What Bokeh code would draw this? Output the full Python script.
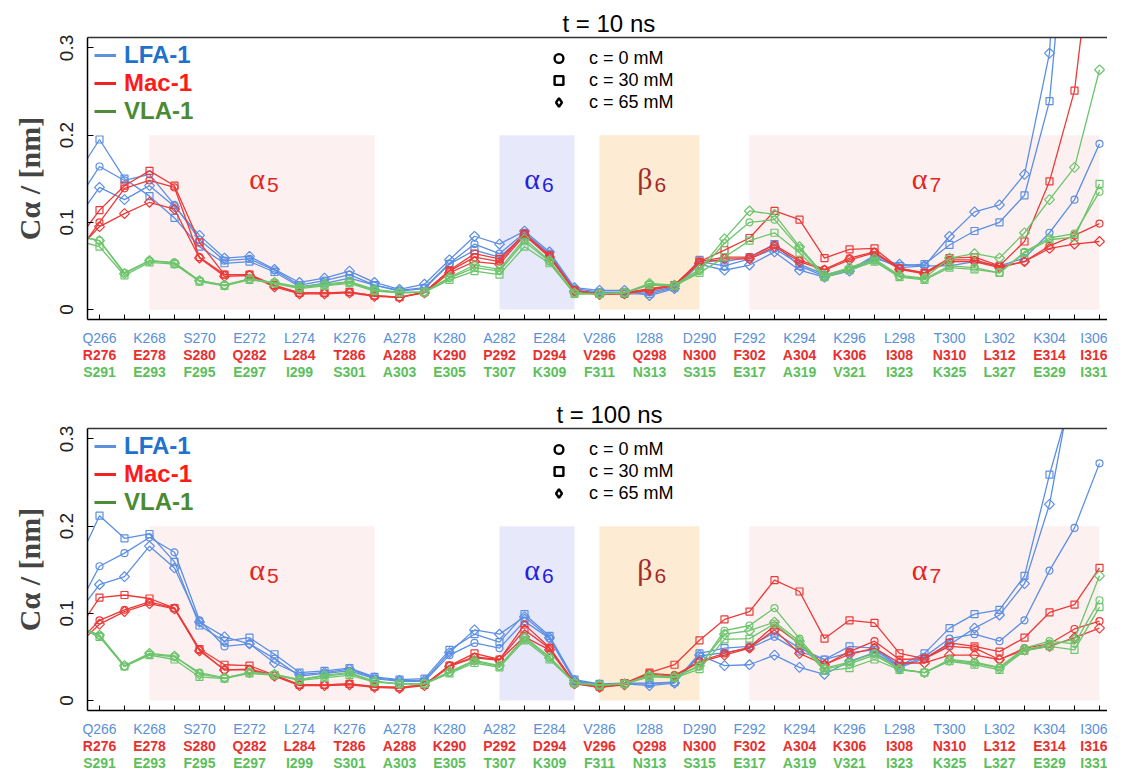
import math
from bokeh.plotting import figure
from bokeh.models import LinearAxis, FixedTicker, Range1d, Legend, LegendItem, Spacer
from bokeh.layouts import column, row
from bokeh.embed import file_html
from bokeh.resources import INLINE
from bokeh.core.properties import value

NAN = float("nan")

# ---------------- data ----------------
residues = [265, 266, 267, 268, 269, 270, 271, 272, 273, 274, 275, 276, 277, 278,
            279, 280, 281, 282, 283, 284, 285, 286, 287, 288, 289, 290, 291, 292,
            293, 294, 295, 296, 297, 298, 299, 300, 301, 302, 303, 304, 305, 306]
all_ticks = [266, 267, 268, 269, 270, 271, 272, 273, 274, 275, 276, 277, 278, 279,
             280, 281, 282, 283, 284, 285, 286, 287, 288, 289, 290, 291, 292, 293,
             294, 295, 296, 297, 298, 299, 300, 301, 302, 303, 304, 305, 306]
label_ticks = [266, 268, 270, 272, 274, 276, 278, 280, 282, 284, 286, 288, 290,
               292, 294, 296, 298, 300, 302, 304, 306]
lfa_labels = ["Q266", "K268", "S270", "E272", "L274", "K276", "A278", "K280", "A282",
              "E284", "V286", "I288", "D290", "F292", "K294", "K296", "L298", "T300",
              "L302", "K304", "I306"]
mac_labels = ["R276", "E278", "S280", "Q282", "L284", "T286", "A288", "K290", "P292",
              "D294", "V296", "Q298", "N300", "F302", "A304", "K306", "I308", "N310",
              "L312", "E314", "I316"]
vla_labels = ["S291", "E293", "F295", "E297", "I299", "S301", "A303", "E305", "T307",
              "K309", "F311", "N313", "S315", "E317", "A319", "V321", "I323", "K325",
              "L327", "E329", "I331"]

region_names = ["α", "α", "β", "α"]
region_subs = ["5", "6", "6", "7"]
region_start = [268, 282, 286, 292]
region_end = [277, 285, 290, 306]
region_bottom = [0, 0, 0, 0]
region_top = [0.2, 0.2, 0.2, 0.2]
region_label_y = [0.15, 0.15, 0.15, 0.15]
region_fill = ["#fdf0f0", "#e8e8fb", "#fdebd4", "#fdf0f0"]
region_text_color = ["#e3261f", "#2323dd", "#a32b2b", "#e3261f"]

conc_labels = ["c = 0 mM", "c = 30 mM", "c = 65 mM"]
conc_markers = ["circle", "square", "square"]
conc_angles = [0.0, 0.0, math.pi / 4]
legend_markers = ["circle", "square", "diamond"]
proteins = ["LFA-1", "Mac-1", "VLA-1"]

# t = 10 ns
lfa_c0_10 = [0.120, 0.164, 0.148, 0.155, 0.120, 0.080, 0.056, 0.058, 0.045, 0.028, 0.033, 0.040, 0.028, 0.022, 0.025, 0.053, 0.075, 0.064, 0.088, 0.064, 0.024, 0.020, 0.020, 0.020, 0.026, 0.055, 0.050, 0.058, 0.070, 0.052, 0.040, 0.046, 0.060, 0.048, 0.050, 0.050, 0.055, 0.050, 0.059, 0.088, 0.126, 0.190]
lfa_c30_10 = [0.150, 0.195, 0.150, 0.130, 0.105, 0.072, 0.053, 0.055, 0.043, 0.026, 0.030, 0.036, 0.028, 0.021, 0.024, 0.052, 0.068, 0.060, 0.085, 0.062, 0.022, 0.019, 0.018, 0.018, 0.025, 0.057, 0.055, 0.060, 0.075, 0.050, 0.038, 0.045, 0.062, 0.050, 0.052, 0.074, 0.090, 0.100, 0.131, 0.239, 0.550, 0.600]
lfa_c65_10 = [0.100, 0.140, 0.126, 0.142, 0.118, 0.085, 0.059, 0.061, 0.046, 0.031, 0.036, 0.044, 0.031, 0.023, 0.029, 0.057, 0.084, 0.075, 0.090, 0.066, 0.025, 0.022, 0.022, 0.016, 0.024, 0.052, 0.045, 0.051, 0.066, 0.045, 0.037, 0.044, 0.058, 0.052, 0.050, 0.084, 0.112, 0.120, 0.155, 0.294, 0.800, 0.700]
mac_c0_10 = [0.060, 0.100, 0.139, 0.148, 0.140, 0.060, 0.040, 0.040, 0.027, 0.019, 0.019, 0.020, 0.016, 0.014, 0.020, 0.044, 0.060, 0.055, 0.087, 0.061, 0.022, 0.018, 0.019, 0.024, 0.028, 0.055, 0.060, 0.060, 0.074, 0.057, 0.046, 0.059, 0.066, 0.047, 0.042, 0.057, 0.057, 0.049, 0.055, 0.073, 0.085, 0.0985]
mac_c30_10 = [0.075, 0.114, 0.142, 0.159, 0.142, 0.077, 0.040, 0.040, 0.028, 0.019, 0.019, 0.020, 0.016, 0.014, 0.020, 0.045, 0.064, 0.058, 0.087, 0.062, 0.022, 0.018, 0.019, 0.023, 0.028, 0.055, 0.068, 0.082, 0.113, 0.103, 0.059, 0.069, 0.070, 0.047, 0.042, 0.059, 0.060, 0.050, 0.078, 0.147, 0.251, 0.490]
mac_c65_10 = [0.065, 0.095, 0.110, 0.123, 0.115, 0.059, 0.038, 0.039, 0.026, 0.018, 0.018, 0.019, 0.015, 0.014, 0.019, 0.042, 0.055, 0.052, 0.085, 0.060, 0.021, 0.017, 0.018, 0.022, 0.027, 0.053, 0.058, 0.058, 0.072, 0.055, 0.045, 0.057, 0.065, 0.046, 0.041, 0.055, 0.055, 0.048, 0.055, 0.070, 0.075, 0.078]
vla_c0_10 = [0.085, 0.079, 0.042, 0.056, 0.054, 0.033, 0.028, 0.035, 0.030, 0.025, 0.028, 0.031, 0.022, 0.019, 0.020, 0.036, 0.048, 0.044, 0.078, 0.055, 0.018, 0.018, 0.019, 0.029, 0.027, 0.044, 0.076, 0.100, 0.103, 0.070, 0.038, 0.046, 0.056, 0.038, 0.035, 0.050, 0.048, 0.042, 0.066, 0.082, 0.087, 0.135]
vla_c30_10 = [0.080, 0.072, 0.039, 0.054, 0.052, 0.032, 0.027, 0.034, 0.030, 0.024, 0.027, 0.030, 0.021, 0.019, 0.020, 0.034, 0.044, 0.040, 0.072, 0.053, 0.018, 0.018, 0.019, 0.028, 0.027, 0.042, 0.060, 0.079, 0.088, 0.065, 0.037, 0.045, 0.055, 0.037, 0.034, 0.048, 0.046, 0.042, 0.065, 0.080, 0.083, 0.144]
vla_c65_10 = [0.085, 0.079, 0.041, 0.056, 0.053, 0.033, 0.028, 0.035, 0.031, 0.026, 0.029, 0.032, 0.023, 0.020, 0.020, 0.037, 0.051, 0.046, 0.081, 0.056, 0.019, 0.018, 0.019, 0.030, 0.028, 0.046, 0.081, 0.113, 0.109, 0.072, 0.039, 0.048, 0.058, 0.039, 0.036, 0.059, 0.064, 0.059, 0.088, 0.126, 0.163, 0.275]

# t = 100 ns
lfa_c0_100 = [0.100, 0.154, 0.169, 0.187, 0.170, 0.092, 0.062, 0.065, 0.048, 0.028, 0.031, 0.034, 0.025, 0.022, 0.022, 0.052, 0.066, 0.060, 0.091, 0.071, 0.022, 0.018, 0.019, 0.019, 0.021, 0.051, 0.055, 0.060, 0.073, 0.056, 0.047, 0.055, 0.058, 0.039, 0.050, 0.071, 0.076, 0.068, 0.092, 0.149, 0.198, 0.272]
lfa_c30_100 = [0.150, 0.212, 0.186, 0.191, 0.159, 0.086, 0.068, 0.072, 0.053, 0.032, 0.034, 0.037, 0.027, 0.024, 0.025, 0.058, 0.076, 0.067, 0.099, 0.074, 0.024, 0.019, 0.020, 0.020, 0.021, 0.054, 0.060, 0.062, 0.078, 0.060, 0.047, 0.062, 0.060, 0.040, 0.054, 0.083, 0.099, 0.104, 0.143, 0.259, 0.360, 0.450]
lfa_c65_100 = [0.095, 0.133, 0.142, 0.177, 0.152, 0.090, 0.073, 0.065, 0.043, 0.030, 0.032, 0.036, 0.026, 0.023, 0.023, 0.055, 0.081, 0.076, 0.096, 0.072, 0.023, 0.018, 0.019, 0.017, 0.020, 0.052, 0.040, 0.041, 0.052, 0.038, 0.030, 0.045, 0.055, 0.038, 0.048, 0.064, 0.083, 0.098, 0.134, 0.225, 0.380, 0.420]
mac_c0_100 = [0.062, 0.092, 0.104, 0.113, 0.106, 0.058, 0.035, 0.036, 0.029, 0.018, 0.018, 0.019, 0.016, 0.015, 0.018, 0.040, 0.050, 0.047, 0.087, 0.061, 0.020, 0.015, 0.019, 0.031, 0.029, 0.045, 0.054, 0.061, 0.086, 0.065, 0.041, 0.056, 0.068, 0.047, 0.048, 0.062, 0.060, 0.047, 0.060, 0.065, 0.082, 0.091]
mac_c30_100 = [0.075, 0.118, 0.121, 0.117, 0.106, 0.059, 0.041, 0.040, 0.029, 0.018, 0.018, 0.019, 0.016, 0.015, 0.018, 0.040, 0.054, 0.047, 0.081, 0.060, 0.020, 0.016, 0.020, 0.032, 0.041, 0.069, 0.093, 0.102, 0.138, 0.125, 0.071, 0.092, 0.089, 0.054, 0.048, 0.066, 0.062, 0.056, 0.072, 0.101, 0.110, 0.152]
mac_c65_100 = [0.060, 0.0875, 0.102, 0.111, 0.105, 0.057, 0.035, 0.035, 0.028, 0.017, 0.017, 0.018, 0.015, 0.014, 0.017, 0.039, 0.049, 0.046, 0.073, 0.058, 0.019, 0.015, 0.018, 0.030, 0.028, 0.044, 0.052, 0.060, 0.081, 0.054, 0.041, 0.053, 0.060, 0.043, 0.043, 0.052, 0.052, 0.047, 0.058, 0.062, 0.072, 0.083]
vla_c0_100 = [0.086, 0.0745, 0.039, 0.053, 0.050, 0.032, 0.026, 0.032, 0.030, 0.024, 0.029, 0.032, 0.022, 0.019, 0.019, 0.032, 0.045, 0.039, 0.073, 0.050, 0.020, 0.018, 0.019, 0.028, 0.027, 0.039, 0.080, 0.086, 0.106, 0.071, 0.037, 0.044, 0.054, 0.036, 0.032, 0.047, 0.044, 0.038, 0.060, 0.068, 0.065, 0.115]
vla_c30_100 = [0.085, 0.073, 0.039, 0.052, 0.047, 0.027, 0.025, 0.031, 0.029, 0.023, 0.026, 0.029, 0.021, 0.019, 0.019, 0.031, 0.043, 0.038, 0.069, 0.047, 0.020, 0.017, 0.019, 0.027, 0.026, 0.036, 0.070, 0.071, 0.088, 0.065, 0.034, 0.037, 0.047, 0.035, 0.032, 0.045, 0.041, 0.035, 0.057, 0.062, 0.058, 0.107]
vla_c65_100 = [0.087, 0.075, 0.040, 0.054, 0.051, 0.030, 0.026, 0.032, 0.030, 0.024, 0.028, 0.031, 0.022, 0.019, 0.019, 0.033, 0.046, 0.040, 0.071, 0.049, 0.020, 0.018, 0.019, 0.029, 0.027, 0.040, 0.076, 0.080, 0.090, 0.068, 0.036, 0.042, 0.052, 0.036, 0.032, 0.046, 0.043, 0.037, 0.058, 0.064, 0.070, 0.143]

# ---------------- styles ----------------
line_colors = {"LFA-1": "#5b8fe3", "Mac-1": "#ec3a38", "VLA-1": "#6cc56c"}
legend_line_colors = {"LFA-1": "#5d90dc", "Mac-1": "#f02222", "VLA-1": "#4f8a3a"}
legend_text_colors = {"LFA-1": "#1f72cc", "Mac-1": "#ff1a1a", "VLA-1": "#4a8a34"}
tick_colors = ["#5a8fd8", "#e8302f", "#5cbf5c"]
SANS = "Liberation Sans"
SERIF = "Liberation Serif"

FRAME_W = 1020
FRAME_H = 282
X_START = 265.52
X_END = X_START + FRAME_W / 25.0


def make_panel(title_text, title_offset, series):
    p = figure(frame_width=FRAME_W, frame_height=FRAME_H,
               x_range=Range1d(X_START, X_END), y_range=Range1d(-0.0115, 0.312),
               output_backend="svg", toolbar_location=None,
               min_border_left=0, min_border_right=0,
               min_border_top=0, min_border_bottom=0,
               title=title_text)
    p.title.align = "left"
    p.title.offset = title_offset
    p.title.text_font = SANS
    p.title.text_font_size = "24px"
    p.title.text_font_style = "normal"
    p.title.text_color = "black"
    p.title.standoff = 1
    p.outline_line_color = None
    p.grid.visible = False
    p.background_fill_color = "white"
    p.border_fill_color = "white"

    # shaded secondary-structure regions
    p.quad(left=region_start, right=region_end, bottom=region_bottom, top=region_top,
           fill_color=region_fill, line_color=None)
    centers = [(a + b) / 2 for a, b in zip(region_start, region_end)]
    p.text(x=centers, y=region_label_y, text=region_names, text_color=region_text_color,
           text_font=value(SERIF), text_font_size="30px", text_align="right",
           text_baseline="middle", x_offset=3)
    p.text(x=centers, y=region_label_y, text=region_subs, text_color=region_text_color,
           text_font=value(SANS), text_font_size="21px", text_align="left",
           text_baseline="middle", x_offset=5, y_offset=6)

    # data
    for prot in proteins:
        for vals, mk, ang in zip(series[prot], conc_markers, conc_angles):
            p.line(residues, vals, line_color=line_colors[prot], line_width=1.3)
            p.scatter(residues, vals, marker=mk, angle=ang, size=7,
                      line_color=line_colors[prot], line_width=1.2, fill_color=None)

    # axes
    p.yaxis.ticker = FixedTicker(ticks=[0, 0.1, 0.2, 0.3])
    p.yaxis.major_label_overrides = {0: "0"}
    p.yaxis.major_label_orientation = "vertical"
    p.yaxis.major_label_text_font = SANS
    p.yaxis.major_label_text_font_size = "19px"
    p.yaxis.major_label_text_color = "#222222"
    p.yaxis.major_label_standoff = 14
    p.yaxis.major_tick_in = 6
    p.yaxis.major_tick_out = 0
    p.yaxis.minor_tick_in = 0
    p.yaxis.minor_tick_out = 0
    p.yaxis.axis_line_width = 1.5
    p.yaxis.axis_label = "Cα / [nm]"
    p.yaxis.axis_label_text_font = SERIF
    p.yaxis.axis_label_text_font_style = "bold"
    p.yaxis.axis_label_text_font_size = "30px"
    p.yaxis.axis_label_standoff = 12

    xa = p.xaxis[0]
    xa.ticker = FixedTicker(ticks=all_ticks)
    ov = {t: "" for t in all_ticks}
    ov.update(dict(zip(label_ticks, lfa_labels)))
    xa.major_label_overrides = ov
    xa.major_tick_in = 5
    xa.major_tick_out = 0
    xa.minor_tick_in = 0
    xa.minor_tick_out = 0
    xa.axis_line_width = 1.5
    xa.major_label_standoff = 10
    xa.major_label_text_font = SANS
    xa.major_label_text_font_size = "14px"
    xa.major_label_text_color = tick_colors[0]

    for labels, col in ((mac_labels, tick_colors[1]), (vla_labels, tick_colors[2])):
        ax = LinearAxis(ticker=FixedTicker(ticks=label_ticks),
                        major_label_overrides=dict(zip(label_ticks, labels)),
                        major_tick_in=0, major_tick_out=0, minor_tick_in=0, minor_tick_out=0,
                        axis_line_color=None, major_label_standoff=-2,
                        major_label_text_font=SANS, major_label_text_font_size="14px",
                        major_label_text_font_style="bold", major_label_text_color=col)
        p.add_layout(ax, "below")

    top_axis = LinearAxis(ticker=FixedTicker(ticks=[]), major_tick_in=0, major_tick_out=0,
                          minor_tick_in=0, minor_tick_out=0, major_label_standoff=0,
                          axis_line_color="#333333", axis_line_width=1.5)
    p.add_layout(top_axis, "above")

    # protein legends (one per colour)
    legend_y = [FRAME_H - 32, FRAME_H - 60, FRAME_H - 88]
    for prot, ly in zip(proteins, legend_y):
        r = p.line(x=[NAN, NAN], y=[NAN, NAN], line_color=legend_line_colors[prot],
                   line_width=3)
        lg = Legend(items=[LegendItem(label=prot, renderers=[r])], location=(7, ly),
                    background_fill_alpha=0, border_line_alpha=0, padding=0, margin=0,
                    glyph_width=22, glyph_height=28, label_height=28, label_standoff=8,
                    label_text_font=SANS, label_text_font_size="24px",
                    label_text_font_style="bold", label_text_color=legend_text_colors[prot])
        p.add_layout(lg)

    # concentration legend
    items = []
    for lab, mk in zip(conc_labels, legend_markers):
        r = p.scatter(x=[NAN], y=[NAN], marker=mk, size=9, line_color="black",
                      line_width=2.4, fill_color=None)
        items.append(LegendItem(label=lab, renderers=[r]))
    lg2 = Legend(items=items, location=(460, FRAME_H - 76), background_fill_alpha=0,
                 border_line_alpha=0, padding=0, margin=0, spacing=0,
                 glyph_width=23, glyph_height=22, label_height=21, label_standoff=19,
                 label_text_font=SANS, label_text_font_size="18px", label_text_color="black")
    p.add_layout(lg2)
    return p


series_10 = {"LFA-1": [lfa_c0_10, lfa_c30_10, lfa_c65_10],
             "Mac-1": [mac_c0_10, mac_c30_10, mac_c65_10],
             "VLA-1": [vla_c0_10, vla_c30_10, vla_c65_10]}
series_100 = {"LFA-1": [lfa_c0_100, lfa_c30_100, lfa_c65_100],
              "Mac-1": [mac_c0_100, mac_c30_100, mac_c65_100],
              "VLA-1": [vla_c0_100, vla_c30_100, vla_c65_100]}

p1 = make_panel("t = 10 ns", 475, series_10)
p2 = make_panel("t = 100 ns", 469, series_100)

layout = row(Spacer(width=9),
             column(Spacer(height=7), p1, Spacer(height=16), p2, spacing=0),
             spacing=0)
open("out.html", "w").write(file_html(layout, INLINE))
